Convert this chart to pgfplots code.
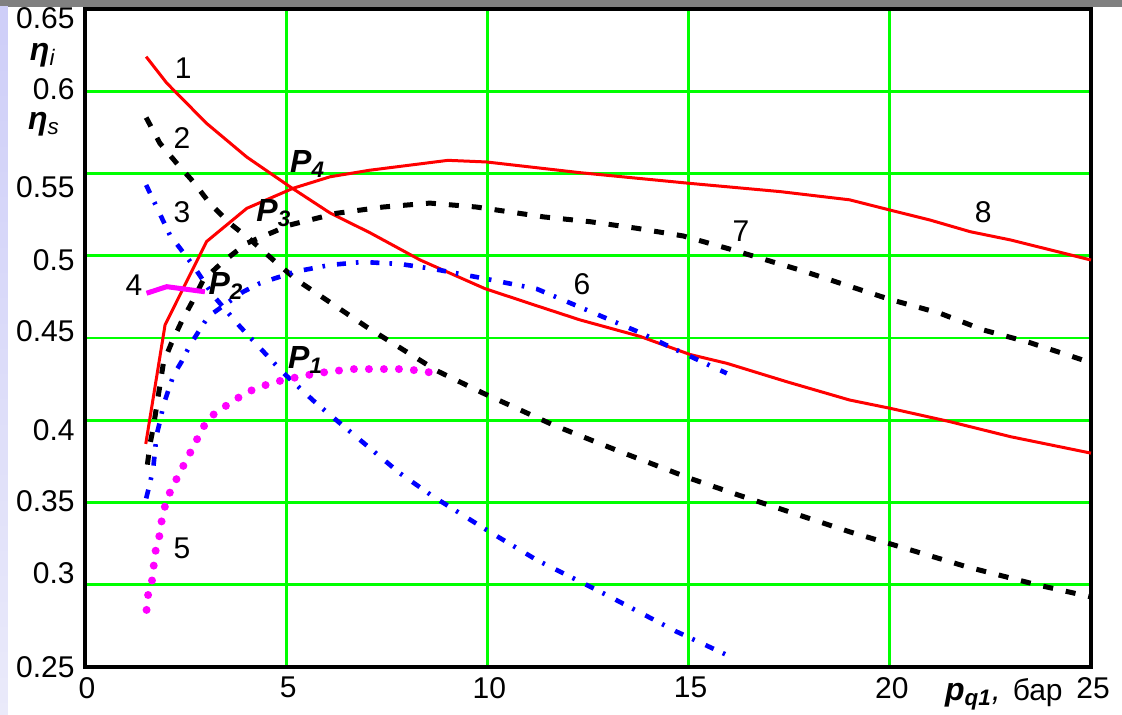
\documentclass[border=0pt]{standalone}
\usepackage{fontspec}
\setmainfont{Liberation Sans}
\usepackage{pgfplots}
\pgfplotsset{compat=1.18}
\definecolor{grn}{RGB}{0,255,0}
\definecolor{mag}{RGB}{255,0,255}
\definecolor{barg}{RGB}{128,128,128}
\definecolor{lavt}{RGB}{206,206,248}
\definecolor{lavb}{RGB}{234,234,250}
\newcommand{\yl}[2]{\raisebox{#1}[\height][\depth]{#2}}
\tikzset{
  clab/.style={font=\fontsize{15}{15}\selectfont},
  plab/.style={font=\fontsize{16}{16}\selectfont\bfseries\itshape, anchor=west, inner sep=0pt},
}
\begin{document}
\begin{tikzpicture}
\path[use as bounding box] (-42.5pt,-24pt) rectangle (518.5pt,333.5pt);
\fill[white] (-42.5pt,-24pt) rectangle (518.5pt,333.5pt);
\fill[barg] (-42.5pt,330pt) rectangle (518.5pt,333.5pt);
\shade[top color=lavt, bottom color=lavb] (-42.5pt,-24pt) rectangle (-38.5pt,330pt);
\begin{axis}[
  scale only axis, width=503pt, height=329pt,
  xmin=0, xmax=25, ymin=0.25, ymax=0.65,
  axis line style={line width=1.8pt, black},
  grid=major, major grid style={grn, line width=1.4pt},
  xtick={0,5,10,15,20,25},
  xticklabels={0,5,10,15,20,25},
  xticklabel style={yshift=-1.5pt, xshift=1pt},
  ytick={0.25,0.3,0.35,0.4,0.45,0.5,0.55,0.6,0.65},
  yticklabels={\yl{0pt}{0.25},\yl{6pt}{0.3},\yl{0.5pt}{0.35},\yl{-5pt}{0.4},\yl{3.5pt}{0.45},\yl{-2pt}{0.5},\yl{-6.75pt}{0.55},\yl{1pt}{0.6},\yl{-4.8pt}{0.65}},
  yticklabel style={inner sep=1pt, xshift=-4pt},
  major tick length=0pt,
  tick label style={font=\fontsize{15}{15}\selectfont},
  /pgf/number format/assume math mode=true,
  clip=false,
]
% curve 1
\addplot[red, line width=1.5pt] coordinates {(1.52,0.621)(2.03,0.605)(3.02,0.5805)(4.02,0.560)(5.09,0.542)(6.09,0.526)(7.08,0.514)(8.33,0.4974)(9.94,0.480)(11.3,0.469)(12.3,0.461)(13.79,0.451)(15.03,0.440)(15.95,0.4346)(17.44,0.4234)(19.0,0.4123)(20.0,0.4073)(21.5,0.3991)(23.0,0.390)(25,0.380)};
% curve 8
\addplot[red, line width=1.5pt] coordinates {(1.51,0.3856)(1.99,0.458)(3.02,0.5086)(4.02,0.5288)(5.17,0.541)(6.09,0.548)(7.08,0.552)(9.02,0.558)(9.98,0.557)(12.3,0.5505)(15.03,0.544)(17.27,0.539)(19.0,0.534)(20.0,0.5278)(21.0,0.5217)(22.0,0.5146)(23.0,0.5096)(24.0,0.5035)(25,0.4974)};
% curve 2
\addplot[black, line width=2.5pt, dash pattern=on 5pt off 6.5pt] coordinates {(1.52,0.584)(1.86,0.5684)(2.28,0.5562)(2.69,0.545)(3.1,0.5319)(3.6,0.5197)(4.1,0.510)(4.68,0.4974)(5.26,0.4853)(7.0,0.4567)(8.75,0.430)(9.9,0.4164)(11.64,0.3971)(13.3,0.3809)(15.03,0.3647)(16.23,0.3546)(19.0,0.3322)(20.25,0.3231)(21.9,0.311)(23.65,0.300)(25,0.2926)};
% curve 7
\addplot[black, line width=2.5pt, dash pattern=on 5pt off 6.5pt] coordinates {(1.55,0.373)(1.62,0.386)(1.7,0.396)(1.95,0.435)(2.15,0.447)(2.4,0.460)(2.65,0.4713)(2.94,0.4853)(3.43,0.4964)(4.02,0.5076)(5.09,0.5187)(6.25,0.5258)(7.4,0.5296)(8.57,0.532)(9.73,0.5296)(11.4,0.5236)(12.55,0.5207)(13.71,0.5167)(14.87,0.512)(16.03,0.504)(17.77,0.4913)(18.93,0.482)(20.0,0.4735)(21.25,0.465)(22.32,0.4549)(23.49,0.4471)(25,0.435)};
% curve 3
\addplot[blue, line width=2.3pt, dash pattern=on 4.5pt off 5pt on 1.3pt off 6pt] coordinates {(1.52,0.543)(2.11,0.5126)(2.69,0.494)(3.18,0.476)(3.85,0.457)(4.92,0.429)(5.76,0.410)(7.83,0.3677)(8.66,0.3535)(9.98,0.3333)(11.23,0.315)(12.96,0.2938)(14.7,0.2715)(15.95,0.2573)};
% curve 6
\addplot[blue, line width=2.3pt, dash pattern=on 4.5pt off 5pt on 1.3pt off 6pt] coordinates {(1.52,0.3525)(1.62,0.3623)(1.70,0.3718)(1.78,0.391)(1.86,0.399)(1.95,0.4093)(2.2,0.4275)(2.4,0.4356)(2.61,0.4457)(2.82,0.4538)(3.06,0.463)(3.52,0.471)(3.93,0.4781)(4.35,0.4833)(4.85,0.4873)(5.22,0.4903)(6.09,0.4944)(6.9,0.4962)(7.83,0.495)(8.65,0.492)(9.98,0.4859)(11.23,0.4798)(12.47,0.467)(13.83,0.4529)(14.7,0.4427)(15.95,0.4285)};
% curve 4
\addplot[mag, line width=2.5pt] coordinates {(1.53,0.4772)(2.03,0.4812)(2.98,0.4781)};
% curve 5
\addplot[mag, line width=4pt, line cap=round, dash pattern=on 0pt off 7.5pt] coordinates {(1.53,0.2847)(1.57,0.2942)(1.67,0.303)(1.71,0.312)(1.76,0.3215)(1.86,0.3307)(1.91,0.3398)(2.0,0.349)(2.14,0.358)(2.34,0.3673)(2.53,0.3764)(2.73,0.3856)(2.91,0.395)(3.18,0.4032)(3.65,0.4113)(4.06,0.4174)(4.49,0.4214)(4.93,0.4245)(5.34,0.4265)(5.8,0.4287)(6.23,0.430)(6.67,0.4311)(7.1,0.4311)(7.52,0.4311)(7.95,0.4311)(8.38,0.4299)(8.8,0.4281)};
% labels
\node[clab] at (axis cs:2.44,0.614) {1};
\node[clab] at (axis cs:2.41,0.5716) {2};
\node[clab] at (axis cs:2.41,0.5266) {3};
\node[clab] at (axis cs:1.22,0.482) {4};
\node[clab] at (axis cs:2.41,0.3223) {5};
\node[clab] at (axis cs:12.35,0.4828) {6};
\node[clab] at (axis cs:16.3,0.515) {7};
\node[clab] at (axis cs:22.32,0.5266) {8};
\node[plab] at (axis cs:5.09,0.556) {P\textsubscript{4}};
\node[plab] at (axis cs:4.25,0.526) {P\textsubscript{3}};
\node[plab] at (axis cs:3.06,0.4814) {P\textsubscript{2}};
\node[plab] at (axis cs:5.04,0.4366) {P\textsubscript{1}};
\node[anchor=base east, inner sep=0pt, font=\fontsize{15}{15}\selectfont] at ([xshift=-14pt,yshift=-16.6pt]axis cs:25,0.25)
  {{\fontsize{16}{16}\selectfont\textbf{\textit{p}}\textsubscript{\textbf{\textit{q1}}}\textit{,}}\hspace{0.4em}бар};
\end{axis}
\node[inner sep=0pt] at (-21pt,306pt) {\fontsize{16}{16}\selectfont\textbf{\textit{η}}\textsubscript{\textit{i}}};
\node[inner sep=0pt] at (-20.5pt,271.5pt) {\fontsize{16}{16}\selectfont\textbf{\textit{η}}\textsubscript{\textit{s}}};
\end{tikzpicture}
\end{document}
